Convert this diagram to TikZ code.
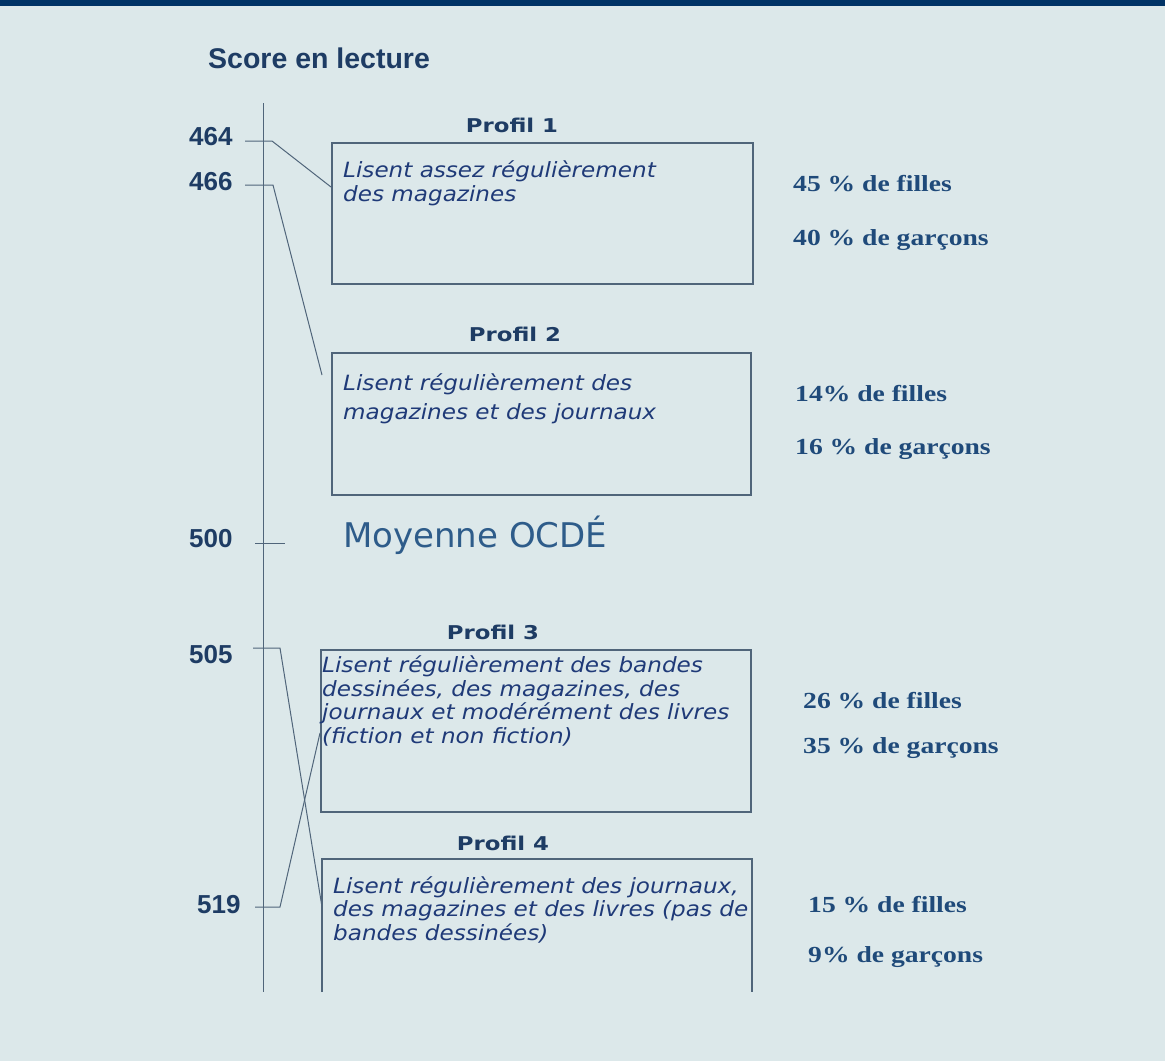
\documentclass[tikz,border=0pt]{standalone}
\usepackage{fontspec}
\setmainfont{Liberation Serif}
\newfontfamily\arialf{Liberation Sans}
\newfontfamily\comicf{DejaVu Sans}
\newfontfamily\comicwf[FakeStretch=1.1]{DejaVu Sans}
\newfontfamily\pctf[FakeStretch=1.2]{Liberation Serif}
\newfontfamily\proff[FakeStretch=1.2]{DejaVu Sans}
\definecolor{bgc}{HTML}{DCE8EA}
\definecolor{barc}{HTML}{003366}
\definecolor{numc}{HTML}{1E3C64}
\definecolor{boxtc}{HTML}{1F3A78}
\definecolor{rightc}{HTML}{1F4A7A}
\definecolor{linec}{HTML}{50657A}
\definecolor{moyc}{HTML}{2E5C8A}
\begin{document}
\begin{tikzpicture}[x=1pt,y=-1pt,
  boxst/.style={draw=linec,line width=1.5pt,inner sep=0pt,anchor=north west},
  conn/.style={draw=linec,line width=1pt},
  numlab/.style={font=\arialf\bfseries\fontsize{26}{28}\selectfont,text=numc,anchor=base west,inner sep=0pt},
  proflab/.style={font=\proff\bfseries\fontsize{19}{22}\selectfont,text=numc,anchor=base,inner sep=0pt},
  boxtext/.style={font=\comicwf\itshape\fontsize{21}{23.5}\selectfont,text=boxtc,anchor=base west,inner sep=0pt,align=left},
  pct/.style={font=\pctf\bfseries\fontsize{23}{26}\selectfont,text=rightc,anchor=base west,inner sep=0pt}]
\useasboundingbox (0,0) rectangle (1165,1061);
\fill[bgc] (0,0) rectangle (1165,1061);
\fill[barc] (0,0) rectangle (1165,6);
% title
\node[font=\arialf\bfseries\fontsize{28.5}{30}\selectfont,text=numc,anchor=base west,inner sep=0pt] (title) at (208,68) {Score en lecture};
% axis
\coordinate (axtop) at (263,103);
\coordinate (axbot) at (263,992);
\draw[conn] (axtop) -- (axbot);
% boxes
\node[boxst,minimum width=421,minimum height=141] (b1) at (331,142) {};
\node[boxst,minimum width=419,minimum height=142] (b2) at (331,352) {};
\node[boxst,minimum width=430,minimum height=162] (b3) at (320,649) {};
\coordinate (b4bl) at (322,992);
\coordinate (b4tl) at (322,859);
\coordinate (b4tr) at (752,859);
\coordinate (b4br) at (752,992);
\draw[draw=linec,line width=1.5pt] (b4bl) -- (b4tl) -- (b4tr) -- (b4br);
% profile labels
\node[proflab] (p1) at (512,132) {Profil 1};
\node[proflab] (p2) at (515,341) {Profil 2};
\node[proflab] (p3) at (493,639) {Profil 3};
\node[proflab] (p4) at (503,850) {Profil 4};
% box texts (anchor = baseline of the last line)
\node[boxtext] (t1) at (343,201) {Lisent assez régulièrement\\des magazines};
\node[boxtext] (t2) at (343,419) {Lisent régulièrement des\\[5pt]magazines et des journaux};
\node[boxtext] (t3) at (322,743) {Lisent régulièrement des bandes\\dessinées, des magazines, des\\journaux et modérément des livres\\(fiction et non fiction)};
\node[boxtext] (t4) at (333,940) {Lisent régulièrement des journaux,\\des magazines et des livres (pas de\\bandes dessinées)};
% percentages
\node[pct] (f1) at (793,191) {45 \% de filles};
\node[pct] (g1) at (793,245) {40 \% de garçons};
\node[pct] (f2) at (795,401) {14\% de filles};
\node[pct] (g2) at (795,454) {16 \% de garçons};
\node[pct] (f3) at (803,708) {26 \% de filles};
\node[pct] (g3) at (803,753) {35 \% de garçons};
\node[pct] (f4) at (808,912) {15 \% de filles};
\node[pct] (g4) at (808,962) {9\% de garçons};
% score labels and ticks
\node[numlab] (n464) at (189,145) {464};
\node[numlab] (n466) at (189,190) {466};
\node[numlab] (n500) at (189,547) {500};
\node[numlab] (n505) at (189,663) {505};
\node[numlab] (n519) at (197,913) {519};
\coordinate (s464) at (245,141);
\coordinate (k464) at (272,141);
\coordinate (e464) at (331,187);
\draw[conn] (s464) -- (k464) -- (e464);
\coordinate (s466) at (245,185);
\coordinate (k466) at (273,185);
\coordinate (e466) at (322,375);
\draw[conn] (s466) -- (k466) -- (e466);
\coordinate (s500) at (255,543);
\coordinate (k500) at (285,543);
\draw[conn] (s500) -- (k500);
\node[font=\comicf\fontsize{34}{38}\selectfont,text=moyc,anchor=base west,inner sep=0pt] (moy) at (343,547) {Moyenne OCDÉ};
\coordinate (s505) at (253,648);
\coordinate (k505) at (280,648);
\coordinate (e505) at (322,907);
\draw[conn] (s505) -- (k505) -- (e505);
\coordinate (s519) at (255,907);
\coordinate (k519) at (280,907);
\coordinate (e519) at (320,733);
\draw[conn] (s519) -- (k519) -- (e519);
\end{tikzpicture}
\end{document}
